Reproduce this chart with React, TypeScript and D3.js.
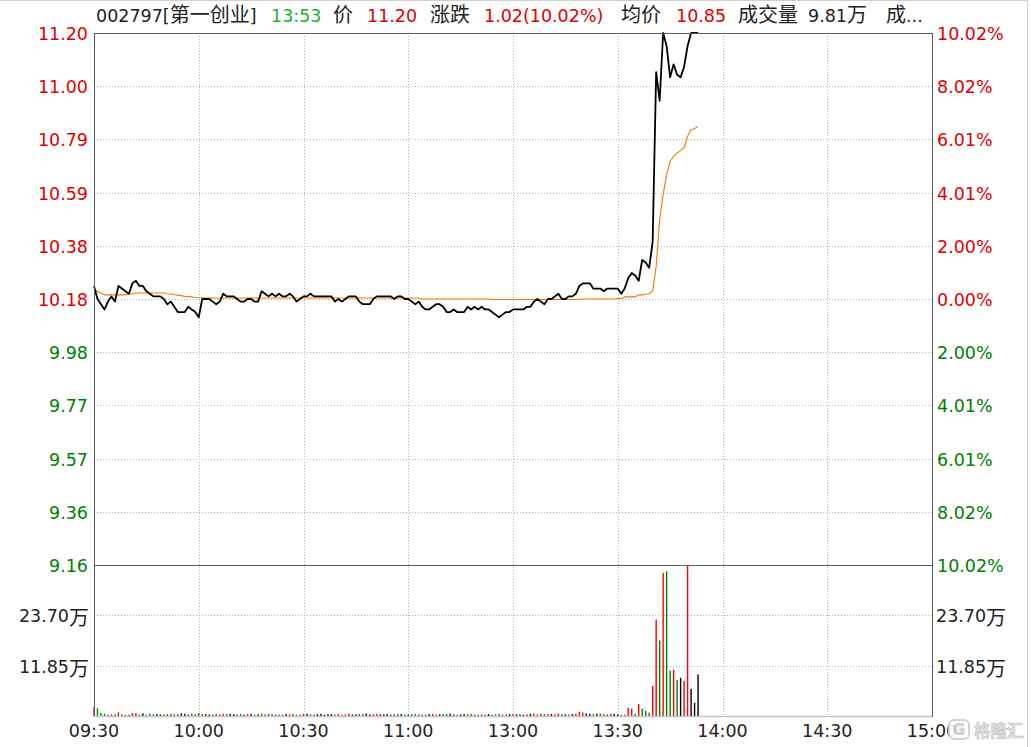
import React from 'react';
import * as d3 from 'd3';

const preClose = 10.18;
const timeLabels = ['09:30', '10:00', '10:30', '11:00', '13:00', '13:30', '14:00', '14:30', '15:00'];
const timeTickIdx = [0, 30, 60, 90, 120, 150, 180, 210, 240];
const priceLabels = ['11.20', '11.00', '10.79', '10.59', '10.38', '10.18', '9.98', '9.77', '9.57', '9.36', '9.16'];
const pctLabels = ['10.02%', '8.02%', '6.01%', '4.01%', '2.00%', '0.00%', '2.00%', '4.01%', '6.01%', '8.02%', '10.02%'];
const volLabelNums = ['23.70', '11.85'];
const volTickVals = [23.7, 11.85];
const volMax = 35.55;

const prices = [
  10.23, 10.18, 10.16, 10.14, 10.17, 10.19, 10.17, 10.23, 10.22, 10.21,
  10.20, 10.24, 10.25, 10.23, 10.23, 10.21, 10.20, 10.19, 10.19, 10.19,
  10.18, 10.16, 10.17, 10.15, 10.13, 10.13, 10.13, 10.15, 10.14, 10.13,
  10.11, 10.18, 10.18, 10.18, 10.17, 10.16, 10.17, 10.20, 10.19, 10.19,
  10.19, 10.18, 10.17, 10.17, 10.18, 10.18, 10.17, 10.17, 10.21, 10.20,
  10.19, 10.20, 10.19, 10.20, 10.19, 10.19, 10.20, 10.19, 10.17, 10.18,
  10.19, 10.19, 10.20, 10.19, 10.19, 10.19, 10.19, 10.19, 10.19, 10.17,
  10.18, 10.17, 10.18, 10.19, 10.19, 10.19, 10.17, 10.16, 10.16, 10.16,
  10.18, 10.19, 10.19, 10.19, 10.19, 10.19, 10.18, 10.19, 10.19, 10.18,
  10.18, 10.17, 10.16, 10.17, 10.15, 10.14, 10.14, 10.15, 10.16, 10.16,
  10.15, 10.13, 10.13, 10.14, 10.13, 10.13, 10.13, 10.15, 10.14, 10.15,
  10.14, 10.15, 10.14, 10.14, 10.13, 10.12, 10.11, 10.12, 10.13, 10.13,
  10.14, 10.14, 10.14, 10.14, 10.15, 10.15, 10.17, 10.18, 10.17, 10.16,
  10.18, 10.18, 10.19, 10.20, 10.18, 10.18, 10.19, 10.19, 10.20, 10.23,
  10.24, 10.24, 10.24, 10.22, 10.22, 10.22, 10.21, 10.22, 10.22, 10.22,
  10.22, 10.20, 10.22, 10.26, 10.28, 10.27, 10.25, 10.33, 10.32, 10.30,
  10.40, 11.05, 10.94, 11.20, 11.15, 11.03, 11.08, 11.04, 11.03, 11.07,
  11.15, 11.20, 11.20, 11.20,
];

const avgPrices = [
  10.213, 10.21, 10.203, 10.196, 10.196, 10.196, 10.196, 10.196, 10.196, 10.196,
  10.198, 10.2, 10.203, 10.203, 10.203, 10.203, 10.203, 10.203, 10.203, 10.203,
  10.203, 10.2, 10.199, 10.196, 10.195, 10.193, 10.19, 10.189, 10.188, 10.186,
  10.185, 10.184, 10.184, 10.184, 10.184, 10.184, 10.184, 10.184, 10.184, 10.184,
  10.184, 10.184, 10.184, 10.184, 10.184, 10.184, 10.184, 10.184, 10.184, 10.184,
  10.184, 10.184, 10.184, 10.184, 10.184, 10.184, 10.184, 10.184, 10.184, 10.184,
  10.184, 10.184, 10.184, 10.184, 10.184, 10.184, 10.184, 10.184, 10.184, 10.184,
  10.184, 10.184, 10.184, 10.184, 10.184, 10.184, 10.184, 10.184, 10.184, 10.184,
  10.184, 10.184, 10.184, 10.184, 10.184, 10.184, 10.184, 10.184, 10.184, 10.184,
  10.184, 10.184, 10.184, 10.184, 10.18, 10.18, 10.18, 10.18, 10.18, 10.18,
  10.18, 10.18, 10.18, 10.18, 10.18, 10.18, 10.18, 10.18, 10.18, 10.18,
  10.18, 10.18, 10.18, 10.18, 10.178, 10.178, 10.178, 10.178, 10.178, 10.178,
  10.178, 10.178, 10.178, 10.178, 10.178, 10.178, 10.178, 10.178, 10.178, 10.178,
  10.178, 10.178, 10.178, 10.178, 10.178, 10.178, 10.178, 10.178, 10.178, 10.178,
  10.18, 10.18, 10.18, 10.18, 10.18, 10.18, 10.18, 10.18, 10.18, 10.18,
  10.182, 10.182, 10.188, 10.188, 10.188, 10.188, 10.196, 10.196, 10.198, 10.2,
  10.21, 10.305, 10.484, 10.58, 10.657, 10.708, 10.727, 10.74, 10.749, 10.761,
  10.804, 10.829, 10.833, 10.842,
];

// volume in 万 shares per minute
const volumes = [
  2.1, 1.8, 0.7, 0.55, 0.3, 0.4, 0.4, 0.87, 0.4, 0.25,
  0.3, 0.7, 0.7, 0.3, 0.6, 0.3, 0.55, 0.4, 0.45, 0.35,
  0.4, 0.45, 0.5, 0.4, 0.45, 0.6, 0.5, 0.4, 0.6, 0.45,
  0.7, 0.5, 0.45, 0.35, 0.3, 0.5, 0.4, 0.55, 0.45, 0.5,
  0.45, 0.35, 0.5, 0.3, 0.45, 0.5, 0.35, 0.4, 0.6, 0.4,
  0.5, 0.45, 0.4, 0.35, 0.3, 0.5, 0.4, 0.45, 0.3, 0.35,
  0.5, 0.55, 0.4, 0.35, 0.45, 0.5, 0.3, 0.4, 0.45, 0.35,
  0.5, 0.3, 0.4, 0.55, 0.35, 0.4, 0.5, 0.45, 0.6, 0.35,
  0.45, 0.5, 0.4, 0.35, 0.45, 0.3, 0.4, 0.5, 0.45, 0.35,
  0.3, 0.45, 0.5, 0.4, 0.35, 0.3, 0.45, 0.5, 0.35, 0.4,
  0.45, 0.5, 0.55, 0.4, 0.3, 0.35, 0.45, 0.4, 0.5, 0.35,
  0.3, 0.4, 0.35, 0.45, 0.3, 0.4, 0.5, 0.35, 0.4, 0.45,
  0.5, 0.4, 0.35, 0.3, 0.45, 0.5, 0.6, 0.4, 0.55, 0.45,
  0.5, 0.45, 0.4, 0.6, 0.45, 0.4, 0.35, 0.45, 0.5, 1.0,
  0.8, 0.6, 0.5, 0.45, 0.55, 0.55, 0.5, 0.3, 0.55, 0.5,
  0.4, 0.3, 0.3, 1.9, 1.7, 0.5, 2.8, 1.7, 1.2, 0.8,
  7.1, 22.7, 17.8, 33.7, 34.1, 10.7, 10.9, 8.5, 9.0, 8.3,
  35.7, 6.4, 3.1, 9.81,
];

// 1 = up (red), -1 = down (green), 0 = flat (black)
const directions = [
  1, -1, -1, -1, 1, 1, -1, 1, -1, -1,
  -1, 1, 1, -1, 0, -1, -1, -1, 0, 0,
  -1, -1, 1, -1, -1, 0, 0, 1, -1, -1,
  -1, 1, 0, 0, -1, -1, 1, 1, -1, 0,
  0, -1, -1, 0, 1, 0, -1, 0, 1, -1,
  -1, 1, -1, 1, -1, 0, 1, -1, -1, 1,
  1, 0, 1, -1, 0, 0, 0, 0, 0, -1,
  1, -1, 1, 1, 0, 0, -1, -1, 0, 0,
  1, 1, 0, 0, 0, 0, -1, 1, 0, -1,
  0, -1, -1, 1, -1, -1, 0, 1, 1, 0,
  -1, -1, 0, 1, -1, 0, 0, 1, -1, 1,
  -1, 1, -1, 0, -1, -1, -1, 1, 1, 0,
  1, 0, 0, 0, 1, 0, 1, 1, -1, -1,
  1, 0, 1, 1, -1, 0, 1, 0, 1, 1,
  1, 0, 0, -1, 0, -1, 1, 0, 1, 0,
  0, -1, 1, 1, 1, -1, 1, -1, -1, -1,
  1, 1, -1, 1, -1, -1, 1, -1, 0, 1,
  1, 0, 0, 0,
];

const W = 1031;
const H = 747;
const L = 94;
const R = 932;
const T = 33;
const MID = 565;
const B = 716;

const FONT = '"DejaVu Sans", "Noto Sans CJK SC", "Noto Sans", sans-serif';
const RED = '#e00000';
const GREEN = '#008000';
const DARK = '#222222';
const GRID = '#b4b4b4';
const CJK = 20;
const FS = 17.5;

export default function App() {
  const x = d3.scaleLinear().domain([0, 240]).range([L, R]);
  const span = 1.02;
  const yP = d3.scaleLinear().domain([preClose - span, preClose + span]).range([MID, T]);
  const yV = d3.scaleLinear().domain([0, volMax]).range([B, MID]);
  const step = span / 5;

  const priceLine = d3.line<number>().x((_, i) => x(i)).y((d) => yP(d))(prices) || '';
  const avgLine = d3.line<number>().x((_, i) => x(i)).y((d) => yP(d))(avgPrices) || '';

  const dirColor = (d: number) => (d > 0 ? '#ff0000' : d < 0 ? GREEN : '#000000');
  const cjkFont = '"Noto Sans CJK SC", sans-serif';

  return (
    <svg width={W} height={H} style={{ position: 'absolute', left: 0, top: 0, background: '#fff' }} fontFamily={FONT}>
      <rect x={0} y={0} width={W} height={H} fill="#ffffff" />
      {/* outer frame */}
      <line x1={0} y1={0.5} x2={1028} y2={0.5} stroke="#cfcfcf" />
      <line x1={1027.5} y1={0} x2={1027.5} y2={H} stroke="#cfcfcf" />

      {/* header */}
      <g fontSize={FS}>
        <text x={96} y={22} fill={DARK}>002797[<tspan fontSize={CJK} fontFamily={cjkFont}>第一创业</tspan>]</text>
        <text x={271} y={22} fill="#1fae2f">13:53</text>
        <text x={333} y={22} fill={DARK} fontSize={CJK} fontFamily={cjkFont}>价</text>
        <text x={367} y={22} fill={RED}>11.20</text>
        <text x={430} y={22} fill={DARK} fontSize={CJK} fontFamily={cjkFont}>涨跌</text>
        <text x={484} y={22} fill={RED}>1.02(10.02%)</text>
        <text x={621} y={22} fill={DARK} fontSize={CJK} fontFamily={cjkFont}>均价</text>
        <text x={676} y={22} fill={RED}>10.85</text>
        <text x={738} y={22} fill={DARK} fontSize={CJK} fontFamily={cjkFont}>成交量</text>
        <text x={808} y={22} fill={DARK}>9.81<tspan fontSize={CJK} fontFamily={cjkFont}>万</tspan></text>
        <text x={886} y={22} fill={DARK}><tspan fontSize={CJK} fontFamily={cjkFont}>成</tspan>...</text>
      </g>

      {/* horizontal grid main */}
      {priceLabels.map((_, i) =>
        i > 0 && i < 10 ? (
          <line key={'hg' + i} x1={L} x2={R} y1={Math.round(yP(preClose + (5 - i) * step)) + 0.5} y2={Math.round(yP(preClose + (5 - i) * step)) + 0.5}
            stroke={GRID} strokeDasharray="1,2" />
        ) : null
      )}
      {/* volume grid */}
      {volTickVals.map((v, i) => (
        <line key={'vg' + i} x1={L} x2={R} y1={Math.round(yV(v)) + 0.5} y2={Math.round(yV(v)) + 0.5} stroke={GRID} strokeDasharray="1,2" />
      ))}
      {/* vertical grid */}
      {timeTickIdx.map((t, i) =>
        i > 0 && i < timeTickIdx.length - 1 ? (
          <line key={'vgl' + i} x1={Math.round(x(t)) + 0.5} x2={Math.round(x(t)) + 0.5} y1={T} y2={B} stroke={GRID} strokeDasharray="1,2" />
        ) : null
      )}

      {/* volume bars */}
      {volumes.map((v, i) => {
        const top = Math.max(MID, yV(v));
        return (
          <rect key={'vb' + i} x={x(i) - 0.7} width={1.4} y={top} height={B - top} fill={dirColor(directions[i])} />
        );
      })}

      {/* avg line */}
      <path d={avgLine} fill="none" stroke="#f37a00" strokeWidth={1.1} />
      {/* price line */}
      <path d={priceLine} fill="none" stroke="#000" strokeWidth={1.8} strokeLinejoin="round" />

      {/* frame */}
      <line x1={L} x2={R} y1={T + 0.5} y2={T + 0.5} stroke="#5a5a5a" />
      <line x1={L} x2={R} y1={MID + 0.5} y2={MID + 0.5} stroke="#5a5a5a" />
      <line x1={L} x2={R} y1={B + 0.5} y2={B + 0.5} stroke="#c4c4c4" strokeWidth={1.5} />
      <line x1={L + 0.5} x2={L + 0.5} y1={T} y2={B} stroke="#5a5a5a" />
      <line x1={R + 0.5} x2={R + 0.5} y1={T} y2={B + 1} stroke="#5a5a5a" />

      {/* left price labels */}
      <g fontSize={FS} textAnchor="end" dominantBaseline="central">
        {priceLabels.map((lab, i) => (
          <text key={'pl' + i} x={88} y={yP(preClose + (5 - i) * step) + 1} fill={i <= 5 ? RED : GREEN}>{lab}</text>
        ))}
      </g>
      {/* right pct labels */}
      <g fontSize={FS} textAnchor="start" dominantBaseline="central">
        {pctLabels.map((lab, i) => (
          <text key={'rl' + i} x={937} y={yP(preClose + (5 - i) * step) + 1} fill={i <= 5 ? RED : GREEN}>{lab}</text>
        ))}
      </g>
      {/* volume labels */}
      <g fontSize={FS} dominantBaseline="central" fill={DARK}>
        {volLabelNums.map((lab, i) => (
          <text key={'vl' + i} x={89} y={yV(volTickVals[i]) + 1} textAnchor="end">{lab}<tspan fontSize={CJK} fontFamily={cjkFont}>万</tspan></text>
        ))}
        {volLabelNums.map((lab, i) => (
          <text key={'vr' + i} x={936} y={yV(volTickVals[i]) + 1} textAnchor="start">{lab}<tspan fontSize={CJK} fontFamily={cjkFont}>万</tspan></text>
        ))}
      </g>
      {/* time labels */}
      <g fontSize={FS} textAnchor="middle" dominantBaseline="central" fill={DARK}>
        {timeLabels.map((lab, i) => (
          <text key={'tl' + i} x={x(timeTickIdx[i])} y={731}>{lab}</text>
        ))}
      </g>

      {/* watermark */}
      <g opacity={0.92}>
        <rect x={949} y={720} width={20} height={19} rx={5} fill="#ffffff" stroke="#cfcfcf" strokeWidth={2} />
        <text x={959} y={730} fontSize={15} fontWeight="bold" textAnchor="middle" dominantBaseline="central" fill="#d4d4d4" stroke="#c0c0c0" strokeWidth={0.5}>G</text>
        <text x={974} y={737} fontSize={16.5} fontWeight="bold" fontFamily={cjkFont} fill="#e0e0e0" stroke="#c4c4c4" strokeWidth={0.7}>格隆汇</text>
      </g>
    </svg>
  );
}
